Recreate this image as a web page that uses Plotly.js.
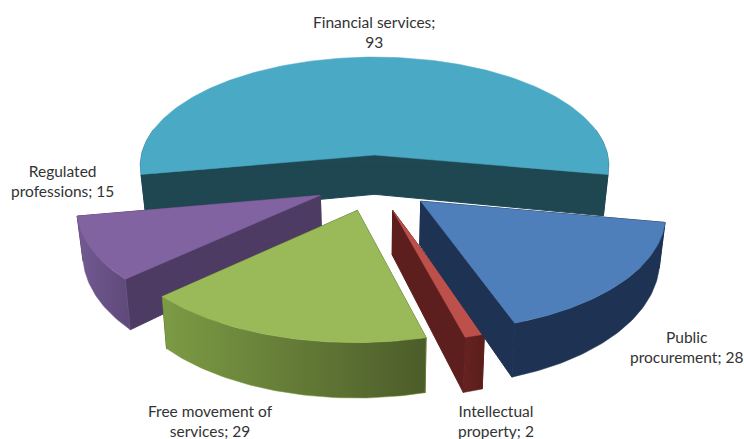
<!DOCTYPE html>
<html><head><meta charset="utf-8">
<script src="https://cdn.plot.ly/plotly-3.0.1.min.js"></script>
<style>html,body{margin:0;padding:0;background:#fff}#c{width:744px;height:439px}</style>
</head><body><div id="c"></div>
<script>
// Data, clockwise from the start of the first slice
const categories = ['Financial services','Public procurement','Intellectual property','Free movement of services','Regulated professions'];
const values = [93, 28, 2, 29, 15];
const labelTexts = ['Financial services;<br>93','Public<br>procurement; 28','Intellectual<br>property; 2','Free movement of<br>services; 29','Regulated<br>professions; 15'];
const labelX = [374, 686, 496, 210, 62];
const labelY = [32, 347, 421, 421, 181];
const topColors = ['#4AAAC5','#4F7FBB','#BE504C','#9ABA59','#8163A1'];
const radialColors = ['#1F4752','#1E3353','#5C1F1D','#55662F','#4E3B63'];
const outerLeft = ['#1F4752','#1E3353','#662220','#7C9B45','#735A92'];
const outerRight = ['#1F4752','#1E3353','#5A1E1C','#4C5C29','#5E4979'];

// Projection of the pie plane onto the picture
const cx=374.5, cy=182.6, R=239, Rc=113, p=0.1, explode=0.25, startDeg=-100.2;
const depth=42, depthGrow=0.26, converge=0.98;
const top_=(X,Y)=>{const s=1/(1-p*Y);return [cx+R*X*s, cy+Rc*Y*s];};
const bot_=(X,Y)=>{const t=top_(X,Y);return [cx+(t[0]-cx)*converge, t[1]+depth*(1+depthGrow*Y)];};
const rad=d=>d*Math.PI/180;
const total=values.reduce((a,b)=>a+b,0);
const traces=[];
function poly(pts,fill,grad,lw){
  const tr={type:'scatter',mode:'lines',x:pts.map(q=>q[0]),y:pts.map(q=>q[1]),fill:'toself',line:{width:lw||0.5,color:fill},hoverinfo:'skip',showlegend:false,fillcolor:fill};
  if(grad){const xs=tr.x;tr.line.color=grad[0];tr.fillgradient={type:'horizontal',start:Math.min(...xs),stop:Math.max(...xs),colorscale:[[0,grad[0]],[1,grad[1]]]};}
  traces.push(tr);
}
let a=startDeg;
const slices=values.map((v,i)=>{const sw=v/total*360;const o={i,a0:a,a1:a+sw};a+=sw;return o;});
const order=[0,4,3,2,1];
order.forEach(i=>{
  const s=slices[i], mid=rad((s.a0+s.a1)/2);
  const ox=explode*Math.sin(mid), oy=-explode*Math.cos(mid);
  const arc=[];const n=Math.max(6,Math.round((s.a1-s.a0)));
  for(let k=0;k<=n;k++){const t=rad(s.a0+(s.a1-s.a0)*k/n);arc.push([ox+Math.sin(t),oy-Math.cos(t)]);}
  const apexT=top_(ox,oy), apexB=bot_(ox,oy);
  const rimT=arc.map(q=>top_(q[0],q[1])), rimB=arc.map(q=>bot_(q[0],q[1]));
  const last=arc.length-1;
  // radial walls
  poly([apexT,rimT[0],rimB[0],apexB,apexT],radialColors[i],null,1);
  poly([apexT,rimT[last],rimB[last],apexB,apexT],radialColors[i],null,1);
  // outer wall: only the part facing the viewer
  const f=[];arc.forEach((q,k)=>{const t=rad(s.a0+(s.a1-s.a0)*k/n);if(-Math.cos(t)>-0.25)f.push(k);});
  if(f.length>1){
    const pts=f.map(k=>rimT[k]).concat(f.slice().reverse().map(k=>rimB[k]));pts.push(rimT[f[0]]);
    poly(pts,outerLeft[i],[outerLeft[i],outerRight[i]]);
  }
  // top face
  poly([apexT].concat(rimT,[apexT]),topColors[i]);
});
const annotations=categories.map((c,i)=>({xref:'x',yref:'y',x:labelX[i],y:labelY[i],text:labelTexts[i],showarrow:false,align:'center',xanchor:'center',yanchor:'middle',font:{family:'Lato, sans-serif',size:15.5,color:'#333333'}}));
Plotly.newPlot('c',traces,{width:744,height:439,margin:{l:0,r:0,t:0,b:0},paper_bgcolor:'#fff',plot_bgcolor:'#fff',showlegend:false,
 xaxis:{range:[0,744],visible:false,fixedrange:true},yaxis:{range:[439,0],visible:false,fixedrange:true},annotations},{displayModeBar:false,staticPlot:true});
</script></body></html>
